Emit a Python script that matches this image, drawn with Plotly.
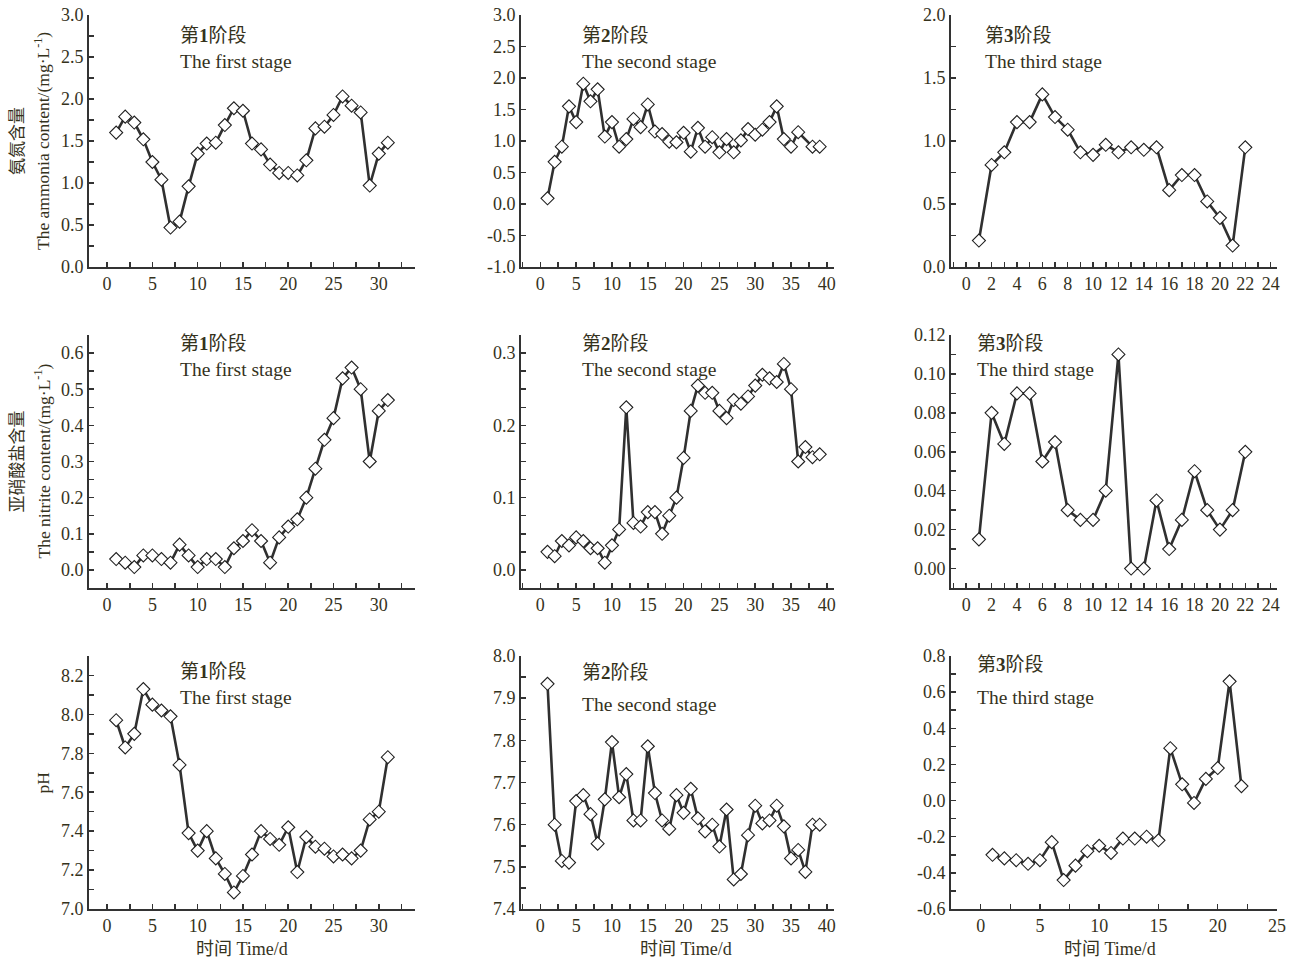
import plotly.graph_objects as go

W, H = 1292, 961

# ---------------- data ----------------
days_s1 = list(range(1, 32))
days_s2 = list(range(1, 40))
days_s2_nh = list(range(1, 37)) + [38, 39]
days_s3 = list(range(1, 23))

ammonia_s1 = [1.60, 1.79, 1.72, 1.52, 1.25, 1.04, 0.47, 0.54, 0.96, 1.35, 1.47, 1.48, 1.69,
              1.89, 1.86, 1.47, 1.40, 1.22, 1.12, 1.12, 1.09, 1.27, 1.65, 1.67, 1.81, 2.03,
              1.92, 1.84, 0.97, 1.35, 1.48]
ammonia_s2 = [0.09, 0.67, 0.91, 1.55, 1.30, 1.91, 1.63, 1.82, 1.07, 1.30, 0.91, 1.03, 1.35,
              1.22, 1.58, 1.15, 1.11, 0.99, 0.98, 1.13, 0.83, 1.21, 0.91, 1.06, 0.82, 1.03,
              0.82, 1.01, 1.19, 1.10, 1.18, 1.30, 1.55, 1.03, 0.91, 1.14, 0.91, 0.91]
ammonia_s3 = [0.21, 0.81, 0.91, 1.15, 1.15, 1.37, 1.19, 1.09, 0.91, 0.89, 0.97, 0.91, 0.95,
              0.93, 0.95, 0.61, 0.73, 0.73, 0.52, 0.39, 0.17, 0.95]

nitrite_s1 = [0.03, 0.02, 0.008, 0.04, 0.04, 0.03, 0.02, 0.07, 0.04, 0.008, 0.03, 0.03, 0.008,
              0.06, 0.08, 0.11, 0.08, 0.02, 0.09, 0.12, 0.14, 0.20, 0.28, 0.36, 0.42, 0.53,
              0.56, 0.50, 0.30, 0.44, 0.47]
nitrite_s2 = [0.025, 0.019, 0.040, 0.034, 0.045, 0.040, 0.030, 0.030, 0.010, 0.034, 0.056,
              0.225, 0.065, 0.060, 0.080, 0.080, 0.050, 0.075, 0.100, 0.155, 0.220, 0.255,
              0.245, 0.245, 0.220, 0.210, 0.235, 0.230, 0.240, 0.255, 0.270, 0.265, 0.260,
              0.285, 0.250, 0.150, 0.170, 0.156, 0.160]
nitrite_s3 = [0.015, 0.080, 0.064, 0.090, 0.090, 0.055, 0.065, 0.030, 0.025, 0.025, 0.040,
              0.110, 0.000, 0.000, 0.035, 0.010, 0.025, 0.050, 0.030, 0.020, 0.030, 0.060]

ph_s1 = [7.97, 7.83, 7.90, 8.13, 8.05, 8.02, 7.99, 7.74, 7.39, 7.30, 7.40, 7.26, 7.18, 7.085,
         7.17, 7.28, 7.40, 7.36, 7.33, 7.42, 7.19, 7.37, 7.32, 7.31, 7.27, 7.28, 7.26, 7.30,
         7.46, 7.50, 7.78]
ph_s2 = [7.934, 7.60, 7.514, 7.51, 7.656, 7.67, 7.625, 7.555, 7.66, 7.796, 7.665, 7.72, 7.61,
         7.61, 7.786, 7.675, 7.61, 7.59, 7.67, 7.628, 7.685, 7.615, 7.584, 7.60, 7.548, 7.636,
         7.47, 7.483, 7.575, 7.645, 7.603, 7.61, 7.645, 7.596, 7.52, 7.54, 7.488, 7.60, 7.60]
ph_s3 = [-0.30, -0.32, -0.33, -0.35, -0.33, -0.23, -0.44, -0.36, -0.28, -0.25, -0.29, -0.21,
         -0.21, -0.20, -0.22, 0.29, 0.09, -0.013, 0.12, 0.18, 0.66, 0.08]

stage_cn = ["第<b>1</b>阶段", "第<b>2</b>阶段", "第<b>3</b>阶段"]
stage_en = ["The first stage", "The second stage", "The third stage"]
ytitle_cn = ["氨氮含量", "亚硝酸盐含量", ""]
ytitle_en = ["The ammonia content/(mg·L<sup>-1</sup>)", "The nitrite content/(mg·L<sup>-1</sup>)", "pH"]
xtitle = "时间 Time/d"

# tick labels
x_ticks_a = [0, 5, 10, 15, 20, 25, 30]
x_ticks_b = [0, 5, 10, 15, 20, 25, 30, 35, 40]
x_ticks_c = [0, 2, 4, 6, 8, 10, 12, 14, 16, 18, 20, 22, 24]
x_ticks_d = [0, 5, 10, 15, 20, 25]
y_ticks = [
    [0.0, 0.5, 1.0, 1.5, 2.0, 2.5, 3.0],
    [-1.0, -0.5, 0.0, 0.5, 1.0, 1.5, 2.0, 2.5, 3.0],
    [0.0, 0.5, 1.0, 1.5, 2.0],
    [0.0, 0.1, 0.2, 0.3, 0.4, 0.5, 0.6],
    [0.0, 0.1, 0.2, 0.3],
    [0.00, 0.02, 0.04, 0.06, 0.08, 0.10, 0.12],
    [7.0, 7.2, 7.4, 7.6, 7.8, 8.0, 8.2],
    [7.4, 7.5, 7.6, 7.7, 7.8, 7.9, 8.0],
    [-0.6, -0.4, -0.2, 0.0, 0.2, 0.4, 0.6, 0.8],
]
y_fmt = ["{:.1f}"] * 5 + ["{:.2f}"] + ["{:.1f}"] * 3

# ---------------- layout geometry (page pixels) ----------------
cols_px = [(89, 415), (521, 834), (951, 1277)]
rows_px = [(15, 267), (335, 588), (656, 909)]

series = [
    (days_s1, ammonia_s1), (days_s2_nh, ammonia_s2), (days_s3, ammonia_s3),
    (days_s1, nitrite_s1), (days_s2, nitrite_s2), (days_s3, nitrite_s3),
    (days_s1, ph_s1), (days_s2, ph_s2), (days_s3, ph_s3),
]
y_ranges = [[0, 3.0], [-1.0, 3.0], [0, 2.0], [-0.05, 0.65], [-0.025, 0.325], [-0.01, 0.12],
            [7.0, 8.3], [7.4, 8.0], [-0.6, 0.8]]
y_minor = [0.25, None, 0.25, 0.05, 0.025, 0.01, 0.1, 0.05, 0.1]
x_specs = [
    ([-2, 34], x_ticks_a, 2.5), ([-2.7, 41], x_ticks_b, 2.5), ([-1.2, 24.5], x_ticks_c, 1),
    ([-2, 34], x_ticks_a, 2.5), ([-2.7, 41], x_ticks_b, 2.5), ([-1.2, 24.5], x_ticks_c, 1),
    ([-2, 34], x_ticks_a, 2.5), ([-2.7, 41], x_ticks_b, 2.5), ([-2.5, 25], x_ticks_d, 2.5),
]

TXT = "#35321c"
AX = "#333333"
FONT = "Liberation Serif, Times New Roman, Noto Sans CJK SC, serif"
TICK_SIZE = 18

fig = go.Figure()
layout = dict(
    width=W, height=H, paper_bgcolor="white", plot_bgcolor="white",
    margin=dict(l=0, r=0, t=0, b=0, pad=0, autoexpand=False), showlegend=False,
    font=dict(family=FONT, size=17, color=TXT),
)
annotations = []


def px_x(x):
    return x / W


def px_y(y):
    return 1 - y / H


for i in range(9):
    r, c = divmod(i, 3)
    n = "" if i == 0 else str(i + 1)
    xs, ys = series[i]
    fig.add_trace(go.Scatter(
        x=xs, y=ys, mode="lines+markers", xaxis="x" + n, yaxis="y" + n,
        line=dict(color="#303030", width=2.6),
        marker=dict(symbol="diamond", size=10, color="white", line=dict(color="#202020", width=1.1)),
        hoverinfo="skip", cliponaxis=False,
    ))
    xr, xt, xm = x_specs[i]
    x0, x1 = cols_px[c]
    y0, y1 = rows_px[r]
    layout["xaxis" + n] = dict(
        domain=[px_x(x0), px_x(x1)], anchor="y" + n, range=xr, automargin=False,
        tickmode="array", tickvals=xt, ticktext=[str(v) for v in xt],
        ticks="inside", ticklen=5, tickwidth=1.5, tickcolor=AX,
        minor=dict(tickmode="linear", tick0=0, dtick=xm, ticks="inside", ticklen=5,
                   tickwidth=1.5, tickcolor=AX),
        showline=True, linecolor=AX, linewidth=1.8, showgrid=False, zeroline=False,
        tickfont=dict(family=FONT, size=TICK_SIZE, color=TXT),
    )
    yt = y_ticks[i]
    ydict = dict(
        domain=[px_y(y1), px_y(y0)], anchor="x" + n, range=y_ranges[i], automargin=False,
        tickmode="array", tickvals=yt, ticktext=[y_fmt[i].format(v) for v in yt],
        ticks="inside", ticklen=5, tickwidth=1.5, tickcolor=AX,
        showline=True, linecolor=AX, linewidth=1.8, showgrid=False, zeroline=False,
        tickfont=dict(family=FONT, size=TICK_SIZE, color=TXT),
    )
    if y_minor[i]:
        ydict["minor"] = dict(tickmode="linear", tick0=yt[0], dtick=y_minor[i], ticks="inside",
                              ticklen=5, tickwidth=1.5, tickcolor=AX)
    layout["yaxis" + n] = ydict

# stage labels (page pixel positions)
stage_pos = [
    (178, 36, 62), (580, 36, 62), (983, 36, 62),
    (178, 343, 369), (580, 343, 369), (975, 343, 369),
    (178, 671, 697), (580, 672, 704), (975, 664, 697),
]
for i, (xp, yc, ye) in enumerate(stage_pos):
    c = i % 3
    annotations.append(dict(x=px_x(xp), y=px_y(yc), xref="paper", yref="paper",
                            text=stage_cn[c], showarrow=False, xanchor="left", yanchor="middle",
                            font=dict(family=FONT, size=19, color=TXT)))
    annotations.append(dict(x=px_x(xp), y=px_y(ye), xref="paper", yref="paper",
                            text=stage_en[c], showarrow=False, xanchor="left", yanchor="middle",
                            font=dict(family=FONT, size=19.5, color=TXT)))

# y-axis titles
for r in range(3):
    yc = (rows_px[r][0] + rows_px[r][1]) / 2
    if ytitle_cn[r]:
        annotations.append(dict(x=px_x(17), y=px_y(yc), xref="paper", yref="paper",
                                text=ytitle_cn[r], showarrow=False, textangle=-90,
                                xanchor="center", yanchor="middle",
                                font=dict(family=FONT, size=17, color=TXT)))
    annotations.append(dict(x=px_x(42), y=px_y(yc), xref="paper", yref="paper",
                            text=ytitle_en[r], showarrow=False, textangle=-90,
                            xanchor="center", yanchor="middle",
                            font=dict(family=FONT, size=17.5, color=TXT)))

# x-axis titles
for xc in (242, 686, 1110):
    annotations.append(dict(x=px_x(xc), y=px_y(949), xref="paper", yref="paper",
                            text=xtitle, showarrow=False, xanchor="center", yanchor="middle",
                            font=dict(family=FONT, size=18, color=TXT)))

layout["annotations"] = annotations
fig.update_layout(**layout)
fig.write_html(
    "out.html",
    config={"displayModeBar": False, "staticPlot": True},
    post_script="document.body.style.margin='0';document.body.style.overflow='hidden';",
)
